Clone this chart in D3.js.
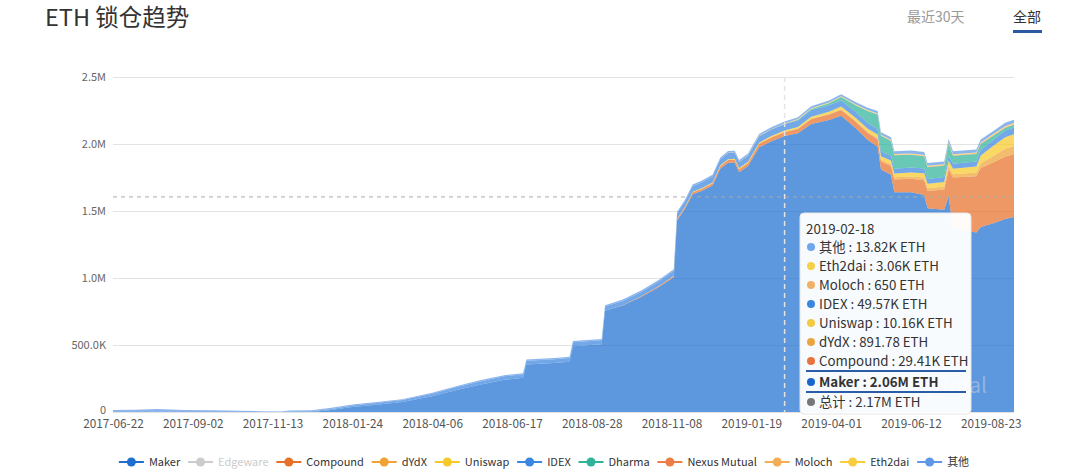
<!DOCTYPE html>
<html><head><meta charset="utf-8">
<script src="https://cdn.jsdelivr.net/npm/d3@7"></script>
<style>
body{margin:0;background:#fff;}
svg{display:block;font-family:"Noto Sans CJK SC","Noto Sans",sans-serif;}
</style></head>
<body><svg id="c" width="1080" height="469"></svg>
<script>
// ---------- data (values in K ETH) ----------
const dates = ["2017-06-22","2017-07-12","2017-08-01","2017-08-25","2017-09-20","2017-10-15","2017-11-05","2017-11-20","2017-11-28","2017-12-18",
"2018-01-05","2018-01-24","2018-02-15","2018-03-10","2018-04-06","2018-05-01","2018-05-20","2018-06-10","2018-06-27","2018-06-30",
"2018-07-25","2018-08-08","2018-08-11","2018-09-06","2018-09-09","2018-09-25","2018-10-12","2018-10-28","2018-11-10","2018-11-13",
"2018-11-20","2018-11-27","2018-12-05","2018-12-15","2018-12-22","2018-12-29","2019-01-04","2019-01-08","2019-01-16","2019-01-26",
"2019-02-06","2019-02-18","2019-03-02","2019-03-14","2019-03-30","2019-04-10","2019-04-23","2019-05-04","2019-05-13","2019-05-16",
"2019-05-25","2019-05-28","2019-06-12","2019-06-24","2019-06-27","2019-07-12","2019-07-16","2019-07-20","2019-08-10","2019-08-14",
"2019-08-26","2019-09-05","2019-09-13"];
const maker   = [0,0,0,0,0,0,0,0,0,0, 15,38,55,75,118,170,205,240,255,355, 365,375,490,505,755,795,860,935,1005,1430, 1515,1625,1650,1690,1815,1860,1860,1790,1835,1975, 2020,2060,2080,2150,2180,2210,2120,2030,1980,1810, 1770,1640,1640,1620,1520,1510,1610,1370,1340,1380, 1410,1440,1455];
const compound= [0,0,0,0,0,0,0,0,0,0, 0,0,0,0,0,0,0,0,0,0, 0,0,0,0,0,2,5,8,10,11, 12,14,15,17,19,20,21,22,24,26, 28,29.41,32,36,40,44,48,52,55,60, 65,95,100,110,130,150,200,380,420,440, 455,465,470];
const dydx    = [0,0,0,0,0,0,0,0,0,0, 0,0,0,0,0,0,0,0,0,0, 0,0,0,0,0,0,0,0,0,0, 0,0,0,0,0,0,0,0,0,0, 0.8,0.89178,2,3,4,5,6,8,10,12, 14,16,18,20,20,22,25,25,28,35, 50,60,60];
const uniswap = [0,0,0,0,0,0,0,0,0,0, 0,0,0,0,0,0,0,0,0,0, 0,0,0,0,0,0,0,0,1,2, 3,4,5,6,7,7,8,8,8,9, 10,10.16,12,14,17,20,22,24,25,26, 27,28,30,32,33,35,40,40,45,60, 75,85,88];
const idex    = [0,0,0,0,0,0,1,2,4,5, 8,10,12,14,18,22,25,26,26,27, 28,28,30,30,32,32,33,35,38,40, 40,42,43,44,45,46,46,46,47,48, 49,49.57,50,50,48,46,44,42,40,38, 37,37,36,36,36,36,37,37,37,40, 45,48,50];
const dharma  = [0,0,0,0,0,0,0,0,0,0, 0,0,0,0,0,0,0,0,0,0, 0,0,0,0,0,0,0,0,0,0, 0,0,0,0,0,0,0,0,0,0, 0,0,5,8,15,25,50,90,110,115, 110,100,95,90,88,85,90,60,55,45, 30,22,20];
const nexus   = [0,0,0,0,0,0,0,0,0,0, 0,0,0,0,0,0,0,0,0,0, 0,0,0,0,0,0,0,0,0,0, 0,0,0,0,0,0,0,0,0,0, 0,0,0,0,0,0,0,0,1,1, 2,2,3,3,3,3,3,3,4,4, 4,4,4];
const moloch  = [0,0,0,0,0,0,0,0,0,0, 0,0,0,0,0,0,0,0,0,0, 0,0,0,0,0,0,0,0,0,0, 0,0,0,0,0,0,0,0,0,0, 0,0.65,1,1,1,1,2,2,2,2, 2,2,2,2,2,2,2,2,2,2, 2,2,2];
const eth2dai = [0,0,0,0,0,0,0,0,0,0, 0,0,0,0,0,0,0,0,0,0, 0,0,0,0,0,0,0,0,0,0, 0,0,0,1,1,2,2,2,2,3, 3,3.06,4,4,5,5,5,5,5,5, 5,5,5,5,5,5,6,6,6,6, 7,7,7];
const other   = [14,17,22,15,13,9,5,1,8,8, 8,8,7,7,8,8,9,9,9,9, 10,10,10,10,10,10,11,11,12,12, 12,12,12,12,13,13,13,13,13,14, 14,13.82,14,15,15,16,17,18,18,18, 18,20,22,22,22,22,25,22,22,22, 23,25,25];

const seriesNames = ["Maker","Compound","dYdX","Uniswap","IDEX","Dharma","Nexus Mutual","Moloch","Eth2dai","其他"];
const seriesValues = [maker,compound,dydx,uniswap,idex,dharma,nexus,moloch,eth2dai,other];
const seriesColors = ["#1f6fd0","#e8702a","#efa334","#f7c928","#3b86de","#2fb39a","#ee7e45","#f3ae55","#f9cd3b","#5f98e6"];
const legendNames  = ["Maker","Edgeware","Compound","dYdX","Uniswap","IDEX","Dharma","Nexus Mutual","Moloch","Eth2dai","其他"];
const legendColors = ["#1f6fd0","#cccccc","#e8702a","#efa334","#f7c928","#3b86de","#2fb39a","#ee7e45","#f3ae55","#f9cd3b","#5f98e6"];
const legendOff    = ["Edgeware"];
const yTicks = [0, 500000, 1000000, 1500000, 2000000, 2500000];
const yTickLabels = ["0","500.0K","1.0M","1.5M","2.0M","2.5M"];
const xTicks = ["2017-06-22","2017-09-02","2017-11-13","2018-01-24","2018-04-06","2018-06-17","2018-08-28","2018-11-08","2019-01-19","2019-04-01","2019-06-12","2019-08-23"];
const xDomain = ["2017-06-22","2019-09-13"];
const tipDate = "2019-02-18";
const tipRows = [["其他","13.82K ETH","#6fa6ec"],["Eth2dai","3.06K ETH","#f5d04a"],["Moloch","650 ETH","#f0b068"],["IDEX","49.57K ETH","#3c86e0"],
  ["Uniswap","10.16K ETH","#f5c842"],["dYdX","891.78 ETH","#eba540"],["Compound","29.41K ETH","#e8743b"],["Maker","2.06M ETH","#1a66cc"],["总计","2.17M ETH","#777777"]];
const pointerValue = 1605000;

// ---------- chart ----------
const svg = d3.select("#c");
const parse = d3.timeParse("%Y-%m-%d");
const L = 113, R = 1014, T = 77, B = 412;
const x = d3.scaleTime().domain(xDomain.map(parse)).range([L, R]);
const y = d3.scaleLinear().domain([0, 2500000]).range([B, T]);

// title and tabs
svg.append("text").attr("x",45).attr("y",26).attr("font-size",23.5).attr("fill","#333").text("ETH 锁仓趋势");
svg.append("text").attr("x",907).attr("y",22).attr("font-size",14).attr("fill","#999").text("最近30天");
svg.append("text").attr("x",1013).attr("y",22).attr("font-size",14).attr("fill","#333").text("全部");
svg.append("rect").attr("x",1013).attr("y",30).attr("width",29).attr("height",3).attr("fill","#2c5aa0");

// grid
svg.append("g").selectAll("line").data(yTicks).join("line")
  .attr("x1",L).attr("x2",R).attr("y1",d=>y(d)).attr("y2",d=>y(d))
  .attr("stroke","#e3e3e3").attr("stroke-width",1).attr("shape-rendering","crispEdges");

// y axis labels
const ya = d3.axisLeft(y).tickValues(yTicks).tickFormat((d,i)=>yTickLabels[i]).tickSize(0).tickPadding(7);
svg.append("g").attr("transform",`translate(${L},0)`).call(ya)
  .call(g=>g.select(".domain").remove())
  .call(g=>g.selectAll("text").attr("fill","#666").attr("font-size",11).attr("font-family","'Noto Sans CJK SC',sans-serif"))
  .call(g=>g.selectAll(".tick").filter(d=>d===0).select("text").attr("dy","0.1em"));

// stacked areas
const rows = dates.map((d,i)=>{const o={date:parse(d)}; seriesNames.forEach((n,k)=>o[n]=seriesValues[k][i]*1000); return o;});
const stack = d3.stack().keys(seriesNames)(rows);
const area = d3.area().x(d=>x(d.data.date)).y0(d=>y(d[0])).y1(d=>y(d[1])).curve(d3.curveLinear);
svg.append("g").selectAll("path").data(stack).join("path")
  .attr("d",area).attr("fill",(d,i)=>seriesColors[i]).attr("fill-opacity",0.72);

// x axis
const xa = d3.axisBottom(x).tickValues(xTicks.map(parse)).tickFormat(d3.timeFormat("%Y-%m-%d")).tickSize(0).tickPadding(8);
svg.append("g").attr("transform",`translate(0,${B})`).call(xa)
  .call(g=>g.select(".domain").remove())
  .call(g=>g.selectAll("text").attr("fill","#555").attr("font-size",11.8).attr("font-family","'Noto Sans CJK SC',sans-serif"));

// crosshair
const px = x(parse(tipDate));
svg.append("line").attr("x1",px).attr("x2",px).attr("y1",T).attr("y2",B)
  .attr("stroke","#e4e4e4").attr("stroke-width",1.5).attr("stroke-dasharray","5,4");
svg.append("line").attr("x1",L).attr("x2",R).attr("y1",y(pointerValue)).attr("y2",y(pointerValue))
  .attr("stroke","#aaa").attr("stroke-width",1).attr("stroke-dasharray","4,4");

// watermark (mostly hidden behind the tooltip)
svg.append("text").attr("x",987).attr("y",393).attr("text-anchor","end").attr("font-size",21)
  .attr("fill","#d6dce6").attr("fill-opacity",0.45).text("DappTotal");

// tooltip
const tip = svg.append("g");
tip.append("rect").attr("x",800).attr("y",213).attr("width",171).attr("height",201).attr("rx",4)
  .attr("fill","#fff").attr("fill-opacity",0.96).attr("stroke","#e6e6e6");
tip.append("text").attr("x",806).attr("y",234).attr("font-size",13.3).attr("fill","#333").text(tipDate);
const rowY = [247,266,285,304,323,342,361,382,402];
tipRows.forEach((r,i)=>{
  const cy = rowY[i];
  tip.append("circle").attr("cx",811).attr("cy",cy).attr("r",4).attr("fill",r[2]);
  tip.append("text").attr("x",819).attr("y",cy+4.6).attr("font-size",13.3).attr("fill","#333")
    .attr("font-weight",r[0]==="Maker"?"bold":"normal").text(r[0]+" : "+r[1]);
});
tip.append("line").attr("x1",806).attr("x2",966).attr("y1",371).attr("y2",371).attr("stroke","#2a5ca8").attr("stroke-width",2);
tip.append("line").attr("x1",806).attr("x2",966).attr("y1",392).attr("y2",392).attr("stroke","#2a5ca8").attr("stroke-width",2);

// legend
const lg = svg.append("g");
const items = [];
legendNames.forEach((n,i)=>{
  const g = lg.append("g");
  const off = legendOff.includes(n);
  const col = legendColors[i];
  g.append("line").attr("x1",0).attr("x2",25).attr("y1",0).attr("y2",0).attr("stroke",col).attr("stroke-width",2);
  g.append("circle").attr("cx",12.5).attr("cy",0).attr("r",4.5).attr("fill",col);
  const t = g.append("text").attr("x",30).attr("y",4).attr("font-size",11).attr("fill",off?"#ccc":"#333").text(n);
  const w = 30 + t.node().getComputedTextLength();
  items.push({g,w});
});
const gap = 7.8;
const total = d3.sum(items,d=>d.w) + gap*(items.length-1);
let sx = 544 - total/2;
items.forEach(it=>{ it.g.attr("transform",`translate(${sx},462)`); sx += it.w + gap; });
</script></body></html>
